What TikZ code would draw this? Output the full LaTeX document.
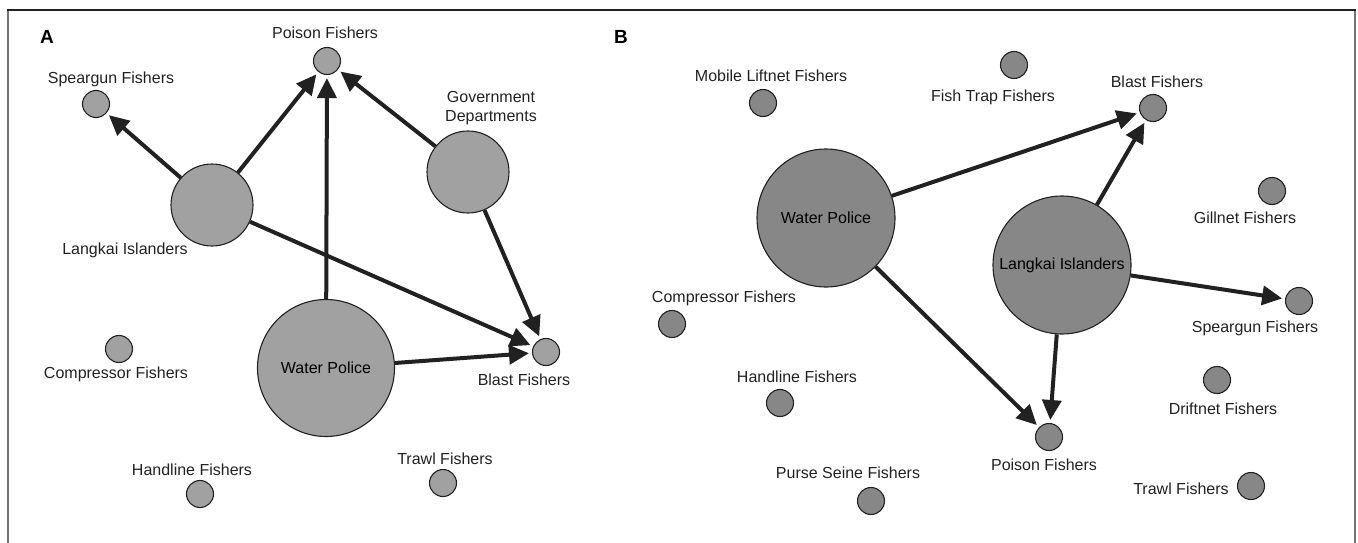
\documentclass[tikz,border=0pt]{standalone}
\usepackage{fontspec}
\setmainfont{Liberation Sans}
\usetikzlibrary{positioning, arrows.meta}

\definecolor{fillA}{gray}{0.63}
\definecolor{fillB}{gray}{0.53}
\definecolor{ink}{gray}{0.13}

\tikzset{
  actor/.style={circle, draw=ink, line width=1.1pt, inner sep=0pt},
  actorA/.style={actor, fill=fillA},
  actorB/.style={actor, fill=fillB},
  small/.style={minimum size=27pt},
  txt/.style={inner sep=0pt, text=ink},
  tag/.style={inner sep=0pt, font=\fontsize{19}{22}\selectfont\bfseries},
  tie/.style={line width=4pt, draw=ink, shorten >=3pt,
    -{Triangle[length=20pt, width=19pt]}},
}

\begin{document}
\begin{tikzpicture}[x=1pt, y=-1pt, font=\fontsize{16}{19}\selectfont]
	\useasboundingbox (0,0) rectangle (1358,543);

	% frame
	\draw[gray!90!black, line width=2pt] (8,560) -- (8,10);
	\draw[gray!90!black, line width=2pt] (1355,560) -- (1355,10);
	\draw[ink, line width=1.2pt] (7,10) -- (1356,10);

	% panel A
	\node[tag] (tagA) at (47,37) {A};

	\node[actorA, small] (poisonA) at (327,61) {};
	\node[actorA, small] (speargunA) at (96,104) {};
	\node[actorA, minimum size=82pt] (govA) at (468,172) {};
	\node[actorA, minimum size=82pt] (langkaiA) at (212,205) {};
	\node[actorA, minimum size=137pt] (policeA) at (326,368) {Water Police};
	\node[actorA, small] (blastA) at (546,352) {};
	\node[actorA, small] (compressorA) at (119,349) {};
	\node[actorA, small] (handlineA) at (200,494) {};
	\node[actorA, small] (trawlA) at (443,483) {};

	\node[txt] (poisonA-txt) at (325,33) {Poison Fishers};
	\node[txt] (speargunA-txt) at (111,79) {Speargun Fishers};
	\node[txt, align=center] (govA-txt) at (491,108) {Government\\Departments};
	\node[txt] (langkaiA-txt) at (125,250) {Langkai Islanders};
	\node[txt] (blastA-txt) at (524,380) {Blast Fishers};
	\node[txt] (compressorA-txt) at (116,374) {Compressor Fishers};
	\node[txt] (handlineA-txt) at (192,470) {Handline Fishers};
	\node[txt] (trawlA-txt) at (445,459) {Trawl Fishers};

	\draw[tie] (langkaiA) -- (speargunA);
	\draw[tie] (langkaiA) -- (poisonA);
	\draw[tie] (policeA) -- (poisonA);
	\draw[tie] (govA) -- (poisonA);
	\draw[tie] (govA) -- (blastA);
	\draw[tie] (langkaiA) -- (blastA);
	\draw[tie] (policeA) -- (blastA);

	% panel B
	\node[tag] (tagB) at (621,37) {B};

	\node[actorB, small] (liftnetB) at (763,103) {};
	\node[actorB, small] (fishtrapB) at (1014,65) {};
	\node[actorB, small] (blastB) at (1153,108) {};
	\node[actorB, minimum size=138pt] (policeB) at (826,218) {Water Police};
	\node[actorB, minimum size=138pt] (langkaiB) at (1062,265) {Langkai Islanders};
	\node[actorB, small] (gillnetB) at (1272,191) {};
	\node[actorB, small] (compressorB) at (672,324) {};
	\node[actorB, small] (speargunB) at (1299,301) {};
	\node[actorB, small] (handlineB) at (780,403) {};
	\node[actorB, small] (driftnetB) at (1217,380) {};
	\node[actorB, small] (poisonB) at (1049,437) {};
	\node[actorB, small] (purseB) at (871,501) {};
	\node[actorB, small] (trawlB) at (1251,486) {};

	\node[txt] (liftnetB-txt) at (771,76) {Mobile Liftnet Fishers};
	\node[txt] (fishtrapB-txt) at (993,97) {Fish Trap Fishers};
	\node[txt] (blastB-txt) at (1157,82) {Blast Fishers};
	\node[txt] (gillnetB-txt) at (1245,218) {Gillnet Fishers};
	\node[txt] (compressorB-txt) at (724,298) {Compressor Fishers};
	\node[txt] (speargunB-txt) at (1255,328) {Speargun Fishers};
	\node[txt] (handlineB-txt) at (797,377) {Handline Fishers};
	\node[txt] (driftnetB-txt) at (1223,409) {Driftnet Fishers};
	\node[txt] (poisonB-txt) at (1044,465) {Poison Fishers};
	\node[txt] (purseB-txt) at (848,473) {Purse Seine Fishers};
	\node[txt] (trawlB-txt) at (1181,489) {Trawl Fishers};

	\draw[tie] (policeB) -- (blastB);
	\draw[tie] (langkaiB) -- (blastB);
	\draw[tie] (langkaiB) -- (speargunB);
	\draw[tie] (policeB) -- (poisonB);
	\draw[tie] (langkaiB) -- (poisonB);
\end{tikzpicture}
\end{document}
